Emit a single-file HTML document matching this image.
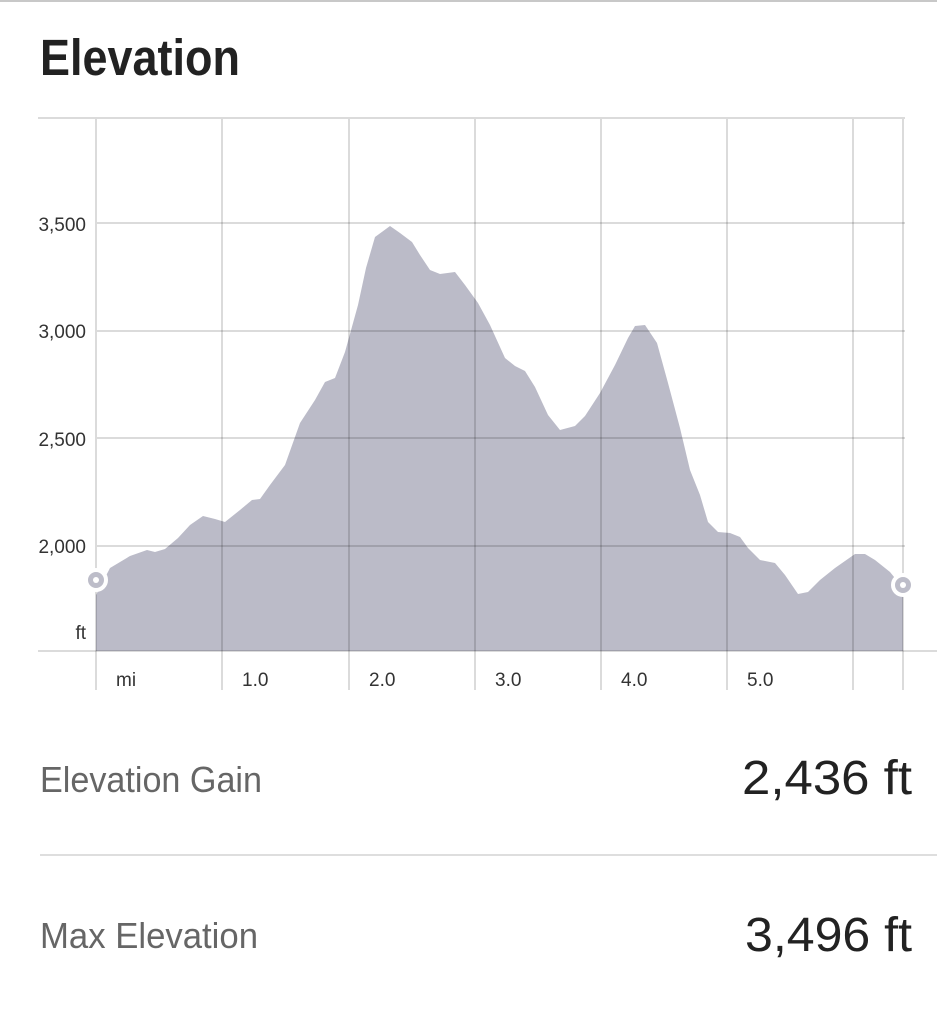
<!DOCTYPE html>
<html><head><meta charset="utf-8"><style>html,body{margin:0;padding:0;background:#fff;width:937px;height:1023px;overflow:hidden}</style></head>
<body>
<svg width="937" height="1023" viewBox="0 0 937 1023" xmlns="http://www.w3.org/2000/svg" font-family="Liberation Sans, sans-serif">
<rect width="937" height="1023" fill="#fff"/>
<line x1="0" y1="1" x2="937" y2="1" stroke="#c8c8c8" stroke-width="2"/>
<text x="40" y="75" font-size="51" font-weight="bold" fill="#222" textLength="200" lengthAdjust="spacingAndGlyphs">Elevation</text>
<path fill="#bbbbc8" d="M96,595 L110,568 L130,556 L147,550 L155,552 L165,549 L178,538 L190,525 L203,516 L215,519 L225,522 L240,510 L252,500 L260,499 L270,485 L285,465 L300,423 L315,400 L325,382 L335,378 L345,352 L358,305 L366,268 L375,237 L390,226 L400,233 L412,242 L420,255 L430,270 L440,274 L455,272 L465,285 L478,303 L490,325 L505,358 L515,366 L525,371 L535,387 L548,415 L560,430 L575,426 L585,416 L600,393 L615,365 L628,338 L635,326 L645,325 L657,343 L668,383 L680,428 L690,470 L700,495 L708,522 L718,532 L730,533 L740,537 L748,548 L760,560 L775,563 L785,575 L798,594 L808,592 L820,580 L835,568 L855,554 L865,554 L875,560 L890,572 L903,588 L903,651 L96,651 Z"/>
<g stroke="#000" stroke-opacity="0.14" stroke-width="2">
<line x1="38" y1="118" x2="905" y2="118"/>
<line x1="97" y1="223" x2="905" y2="223"/>
<line x1="97" y1="331" x2="905" y2="331"/>
<line x1="97" y1="438" x2="905" y2="438"/>
<line x1="97" y1="546" x2="905" y2="546"/>
<line x1="38" y1="651" x2="937" y2="651"/>
<line x1="96" y1="119" x2="96" y2="690"/>
<line x1="222" y1="119" x2="222" y2="690"/>
<line x1="349" y1="119" x2="349" y2="690"/>
<line x1="475" y1="119" x2="475" y2="690"/>
<line x1="601" y1="119" x2="601" y2="690"/>
<line x1="727" y1="119" x2="727" y2="690"/>
<line x1="853" y1="119" x2="853" y2="690"/>
<line x1="903" y1="119" x2="903" y2="690"/>
</g>
<g fill="#bdbdc9" stroke="#fff" stroke-width="4">
<circle cx="96" cy="580" r="10"/>
<circle cx="903" cy="585" r="10"/>
</g>
<circle cx="96" cy="580" r="3" fill="#fff"/>
<circle cx="903" cy="585" r="3" fill="#fff"/>
<g font-size="19" fill="#333" text-anchor="end">
<text x="86" y="231">3,500</text>
<text x="86" y="338">3,000</text>
<text x="86" y="446">2,500</text>
<text x="86" y="553">2,000</text>
<text x="86" y="639">ft</text>
</g>
<g font-size="19" fill="#333">
<text x="116" y="686">mi</text>
<text x="242" y="686">1.0</text>
<text x="369" y="686">2.0</text>
<text x="495" y="686">3.0</text>
<text x="621" y="686">4.0</text>
<text x="747" y="686">5.0</text>
</g>
<text x="40" y="792" font-size="36" fill="#666" textLength="222" lengthAdjust="spacingAndGlyphs">Elevation Gain</text>
<text x="912" y="794" font-size="48" fill="#222" text-anchor="end" textLength="170" lengthAdjust="spacingAndGlyphs">2,436 ft</text>
<line x1="40" y1="855" x2="937" y2="855" stroke="#dedede" stroke-width="2"/>
<text x="40" y="948" font-size="36" fill="#666" textLength="218" lengthAdjust="spacingAndGlyphs">Max Elevation</text>
<text x="912" y="951" font-size="48" fill="#222" text-anchor="end" textLength="167" lengthAdjust="spacingAndGlyphs">3,496 ft</text>
</svg>
</body></html>
